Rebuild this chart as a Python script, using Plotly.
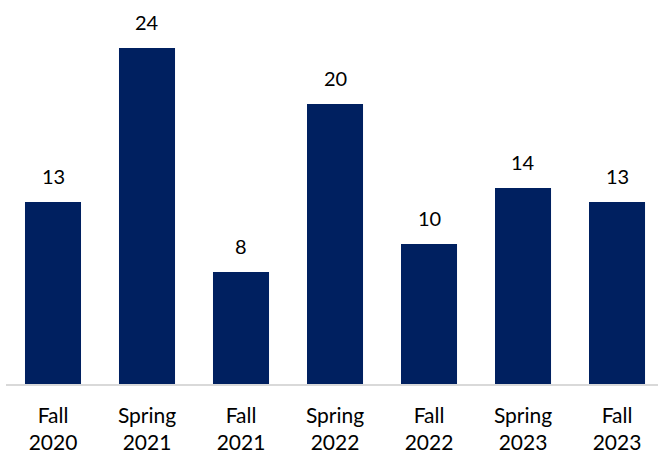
import plotly.graph_objects as go

categories = ["Fall<br>2020", "Spring<br>2021", "Fall<br>2021", "Spring<br>2022",
              "Fall<br>2022", "Spring<br>2023", "Fall<br>2023"]
values = [13, 24, 8, 20, 10, 14, 13]

FONT = "Lato, Carlito, Calibri, sans-serif"
x = list(range(len(categories)))

fig = go.Figure(go.Bar(
    x=x, y=values, marker=dict(color="#002060", line=dict(width=0)),
    width=0.596, hoverinfo="skip",
))

for xi, v in zip(x, values):
    fig.add_annotation(x=xi, y=v, text=str(v), showarrow=False,
                       yanchor="middle", yshift=26,
                       font=dict(family=FONT, size=20, color="#000000"))

fig.update_layout(
    width=658, height=455,
    margin=dict(l=6, r=0, t=0, b=71),
    plot_bgcolor="white", paper_bgcolor="white",
    showlegend=False,
    xaxis=dict(range=[-0.5, 6.436], tickmode="array", tickvals=x, ticktext=categories,
               showline=True, linecolor="#d9d9d9", linewidth=1.5,
               showgrid=False, zeroline=False, ticks="", ticklabelstandoff=12,
               tickfont=dict(family=FONT, size=21, color="#000000")),
    yaxis=dict(range=[0, 384 / 14], visible=False, showgrid=False, zeroline=False),
)

fig.write_html("out.html", config={"displayModeBar": False, "staticPlot": True},
               post_script="document.body.style.margin='0';document.body.style.overflow='hidden';")
